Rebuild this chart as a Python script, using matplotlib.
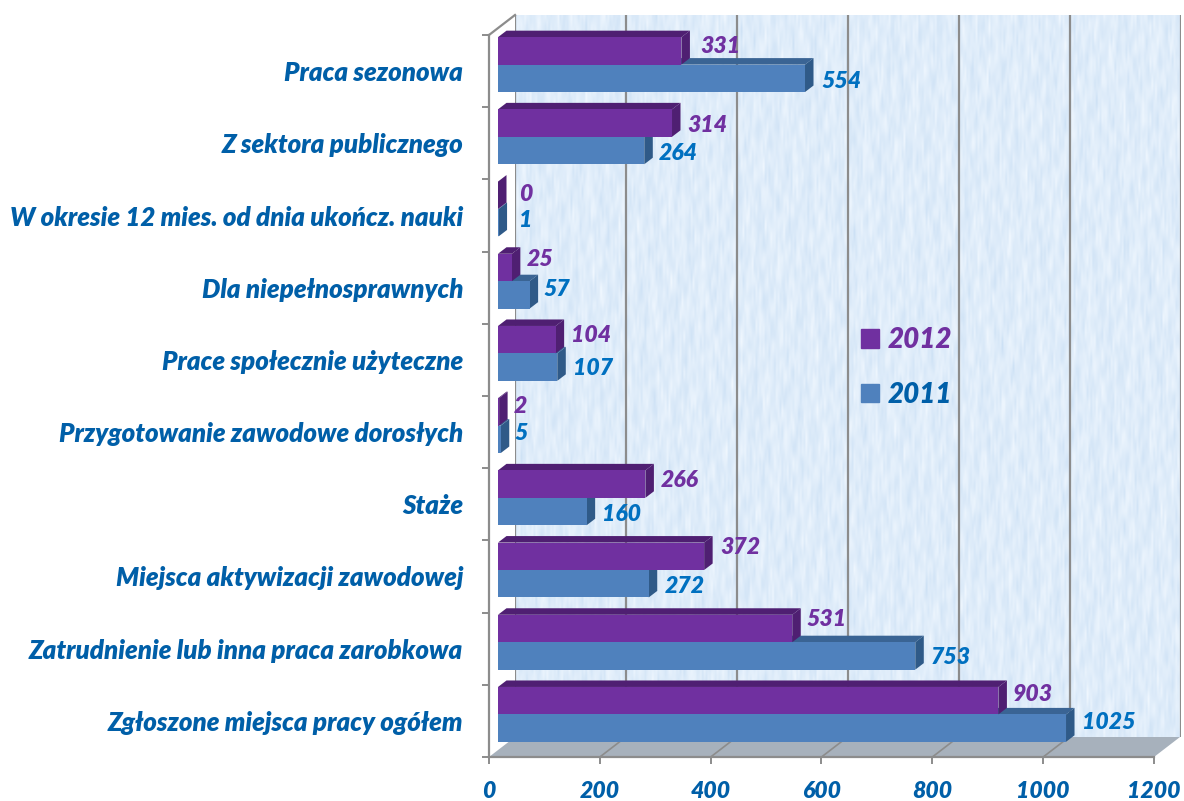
import numpy as np
import matplotlib
matplotlib.use("Agg")
import matplotlib.pyplot as plt
from matplotlib.patches import Polygon, Patch
from matplotlib.transforms import ScaledTranslation

categories = ["Praca sezonowa", "Z sektora publicznego",
              "W okresie 12 mies. od dnia ukończ. nauki", "Dla niepełnosprawnych",
              "Prace społecznie użyteczne", "Przygotowanie zawodowe dorosłych",
              "Staże", "Miejsca aktywizacji zawodowej",
              "Zatrudnienie lub inna praca zarobkowa", "Zgłoszone miejsca pracy ogółem"]
values_2012 = [331, 314, 0, 25, 104, 2, 266, 372, 531, 903]
values_2011 = [554, 264, 1, 57, 107, 5, 160, 272, 753, 1025]
x_ticks = [0, 200, 400, 600, 800, 1000, 1200]

# hand placement of the data labels, px from bar end / bar centre (down positive)
dx_2012 = [18.6, 15, 21, 15, 15.4, 15, 15.6, 15.8, 14.7, 14.6]
dy_2012 = [-6, 1, -2, -9.5, -5.6, -7, -5, -10, -10, -7.6]
dx_2011 = [16, 14.7, 20.5, 14.4, 15.7, 14.2, 15.3, 16.3, 15.7, 16]
dy_2011 = [2, 1.5, -3.7, -7, 0, -7, 1.5, 1.3, 0, -7]
LABEL_NUDGE = 1.5

W, H = 1184, 801
PURPLE, PURPLE_DK = "#7030A0", "#4F1F72"
BLUE, BLUE_TOP, BLUE_SIDE = "#4F81BD", "#3A6494", "#2F5A88"
GREY = "#8C8C8C"
TXT_BLUE, LBL_BLUE = "#005FA8", "#0070C0"

plt.rcParams["font.family"] = ["Lato", "DejaVu Sans"]
plt.rcParams["font.weight"] = 800
plt.rcParams["font.style"] = "italic"

fig = plt.figure(figsize=(W / 100, H / 100), dpi=100, facecolor="white")


def rect(l, t, r, b):
    return [l / W, 1 - b / H, (r - l) / W, (b - t) / H]


# back wall with a soft, mostly vertical mottled texture
wall = fig.add_axes(rect(515, 15, 1181, 737), zorder=1)
yy, xx = np.mgrid[0:1:240j, 0:1:360j]
tex = np.zeros_like(xx)
for fx, fy, ph, a in [(41, 1, .3, 1), (67, 2, 1.7, .9), (103, 1, 2.9, .8), (149, 3, 4.1, .7),
                      (29, 2, 5.3, .8), (211, 2, .9, .6), (17, 1, 3.3, .7), (179, 4, 2.2, .5)]:
    wob = 1.6 * np.sin(2 * np.pi * (5 * yy + 3 * xx) + ph) + 1.1 * np.sin(2 * np.pi * (17 * yy - 7 * xx) + 2 * ph)
    tex += a * np.sin(2 * np.pi * (fx * xx + fy * yy) + ph + wob)
tex = (tex - tex.min()) / (tex.max() - tex.min())
light, dark = np.array([0.95, 0.975, 1.0]), np.array([0.80, 0.88, 0.96])
img = light + (dark - light) * tex[..., None]
wall.imshow(img, extent=(0, 1200, 0, 1), aspect="auto", interpolation="bilinear")
wall.set_xlim(0, 1200)
wall.set_ylim(0, 1)
wall.set_xticks(x_ticks)
wall.set_yticks([])
wall.tick_params(length=0, labelbottom=False)
wall.grid(axis="x", color=GREY, lw=1.6)
for s in wall.spines.values():
    s.set_visible(False)

# main axes = front plane of the chart box
ax = fig.add_axes(rect(489, 35, 1154, 757), zorder=2)
ax.patch.set_alpha(0)
ax.set_xlim(0, 1200)
ax.set_ylim(len(categories), 0)
for s in ("top", "right"):
    ax.spines[s].set_visible(False)
for s in ("left", "bottom"):
    ax.spines[s].set_color(GREY)
    ax.spines[s].set_linewidth(1.6)
ax.set_xticks(x_ticks)
ax.set_yticks(np.arange(len(categories) + 1))
ax.set_yticklabels([])
ax.set_yticks(np.arange(len(categories)) + 0.5, minor=True)
ax.set_yticklabels(categories, minor=True, fontsize=18.6, color=TXT_BLUE)
ax.tick_params(axis="y", which="major", direction="out", length=5, width=1.4, color=GREY)
ax.tick_params(axis="y", which="minor", length=0, pad=18.7)
ax.tick_params(axis="x", direction="out", length=5, width=1.4, color=GREY, pad=12.5,
               labelsize=16.6, labelcolor=TXT_BLUE)


def shifted(dx, dy):
    return ax.transData + ScaledTranslation(dx / 100, dy / 100, fig.dpi_scale_trans)


def to_data(points, dx, dy):
    disp = ax.transData.transform(points) + [dx, dy]
    return ax.transData.inverted().transform(disp)


def face(pts, color, z):
    ax.add_patch(Polygon(pts, closed=True, facecolor=color, edgecolor="none", zorder=z, clip_on=False))


# floor
n = len(categories)
front_edge = [(0, n), (1200, n)]
back_edge = to_data([(1200, n), (0, n)], 26, 20)
face(np.vstack([front_edge, back_edge]), "#A7B1BC", 1)
for v in x_ticks[1:-1]:
    b = to_data([(v, n)], 26, 20)
    ax.plot([v, b[0, 0]], [n, b[0, 1]], color=GREY, lw=1.2, zorder=1.5, clip_on=False)
# top-left diagonal edge of the box
b = to_data([(0, 0)], 26, 20)
ax.plot([0, b[0, 0]], [0, b[0, 1]], color=GREY, lw=1.6, zorder=1.5, clip_on=False)

BAR_H = 0.38
front = (9, 6.5)
depth = (8.5, 6.5)
rows = np.arange(n) + 0.5


def bars(vals, y, c_front, c_top, c_side, z):
    ax.barh(y, vals, height=BAR_H, color=c_front, transform=shifted(*front), zorder=z + .2, clip_on=False)
    for v, yc in zip(vals, y):
        tl, tr = (0, yc - BAR_H / 2), (v, yc - BAR_H / 2)
        br = (v, yc + BAR_H / 2)
        f = to_data([tl, tr, br], *front)
        k = to_data([tl, tr, br], front[0] + depth[0], front[1] + depth[1])
        face([f[0], f[1], k[1], k[0]], c_top, z)
        face([f[1], f[2], k[2], k[1]], c_side, z + .1)


bars(values_2011, rows + BAR_H / 2, BLUE, BLUE_TOP, BLUE_SIDE, 3)
bars(values_2012, rows - BAR_H / 2, PURPLE, PURPLE_DK, PURPLE_DK, 4)

for vals, y, dxs, dys, col in [(values_2012, rows - BAR_H / 2, dx_2012, dy_2012, PURPLE),
                               (values_2011, rows + BAR_H / 2, dx_2011, dy_2011, LBL_BLUE)]:
    for v, yc, dx, dy in zip(vals, y, dxs, dys):
        ax.annotate(str(v), xy=(v, yc), xycoords=shifted(*front), xytext=(dx, -dy - LABEL_NUDGE),
                    textcoords="offset pixels", ha="left", va="center", fontsize=16.6,
                    color=col, zorder=6, annotation_clip=False)

# legend
leg = ax.legend(handles=[Patch(color=PURPLE, label="2012"), Patch(color=BLUE, label="2011")],
                loc="center left", bbox_to_anchor=(861 / W, 1 - 367.5 / H),
                bbox_transform=fig.transFigure, frameon=False, fontsize=20,
                labelcolor=[PURPLE, TXT_BLUE], handlelength=0.65, handleheight=0.65,
                handletextpad=0.3, labelspacing=1.01, borderpad=0, borderaxespad=0)

fig.savefig("out.png", dpi=100)
